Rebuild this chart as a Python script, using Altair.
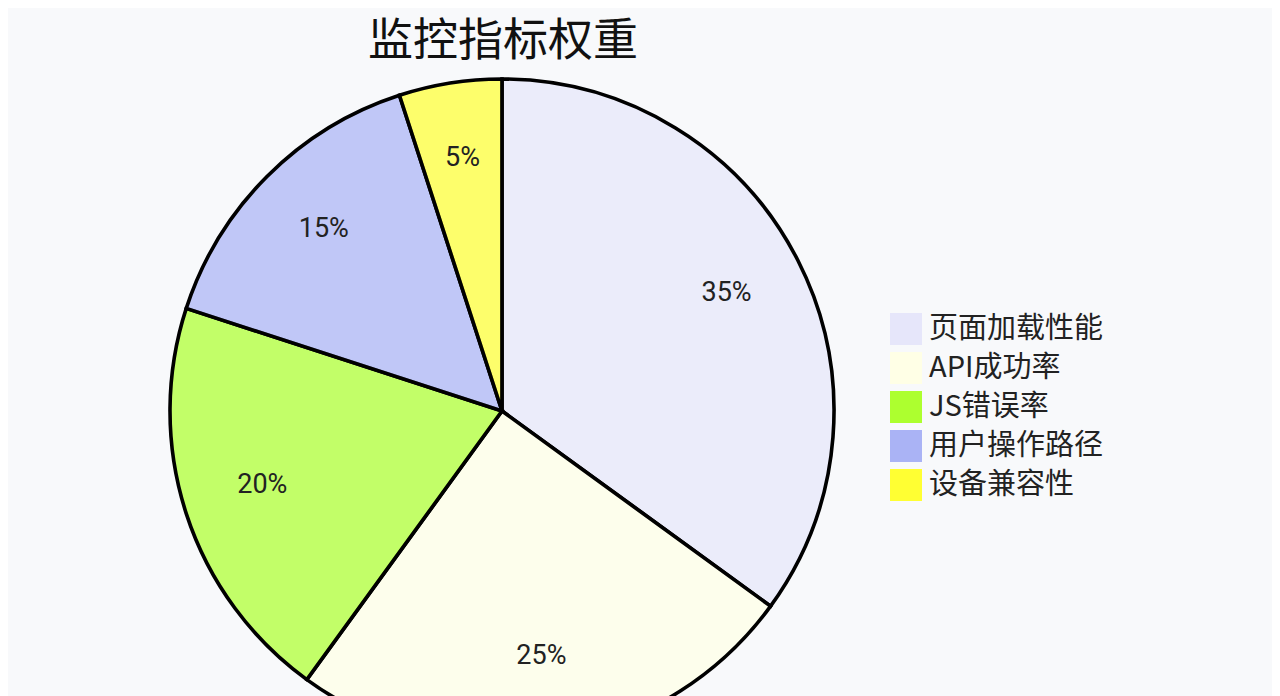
import altair as alt
import pandas as pd

categories = ["页面加载性能", "API成功率", "JS错误率", "用户操作路径", "设备兼容性"]
values = [35, 25, 20, 15, 5]
labels = ["35%", "25%", "20%", "15%", "5%"]
colors = ["#E6E6FA", "#FFFFE6", "#ADFF2F", "#AAB3F5", "#FFFF33"]
title_text = "监控指标权重"

df = pd.DataFrame({
    "category": categories,
    "value": values,
    "label": labels,
    "idx": list(range(len(categories))),
})

CX, CY, R = 494, 403, 332

base = alt.Chart(df).encode(
    theta=alt.Theta("value:Q", stack=True),
    order=alt.Order("idx:Q"),
)

arc = base.mark_arc(
    radius=R, stroke="black", strokeWidth=3.6, fillOpacity=0.72, clip=True
).encode(
    x=alt.value(CX),
    y=alt.value(CY),
    color=alt.Color(
        "category:N",
        scale=alt.Scale(domain=categories, range=colors),
        sort=categories,
        legend=alt.Legend(
            title=None,
            orient="none",
            legendX=882,
            legendY=305,
            symbolType="square",
            symbolSize=1024,
            symbolStrokeWidth=0,
            symbolOpacity=1,
            labelFontSize=29,
            labelFont="Noto Sans CJK SC",
            labelColor="#222222",
            labelOffset=7,
            labelLimit=400,
            rowPadding=7,
        ),
    ),
)

text = base.mark_text(
    radius=252, dy=-4, fontSize=27, font="Roboto, sans-serif",
    color="#222222"
).encode(
    x=alt.value(CX),
    y=alt.value(CY),
    text="label:N",
)

title = alt.Chart(pd.DataFrame({"t": [title_text]})).mark_text(
    fontSize=45, font="Noto Sans CJK SC", color="#111111"
).encode(
    x=alt.value(495),
    y=alt.value(34),
    text="t:N",
)

chart = alt.layer(arc, text, title).properties(
    width=1264,
    height=688,
    padding=0,
    autosize=alt.AutoSizeParams(type="none"),
    background="#f8f9fb",
).configure_view(stroke=None)

chart.save("out.html", embed_options={"renderer": "svg", "actions": False})
